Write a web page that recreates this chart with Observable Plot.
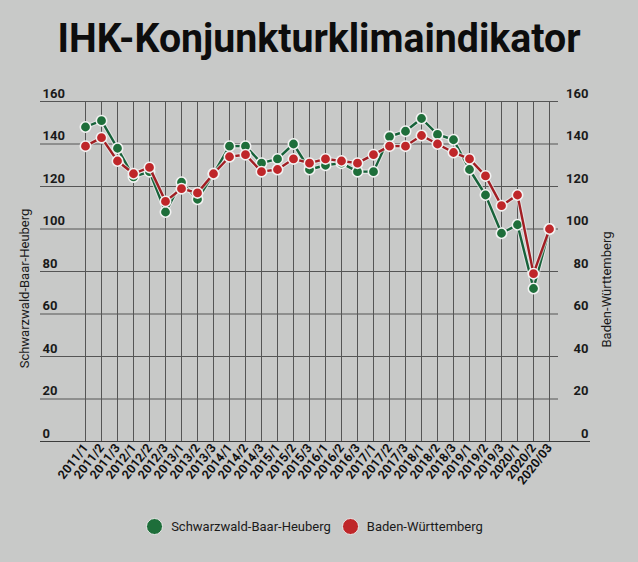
<!DOCTYPE html>
<html>
<head>
<meta charset="utf-8">
<script src="https://cdn.jsdelivr.net/npm/d3@7"></script>
<script src="https://cdn.jsdelivr.net/npm/@observablehq/plot@0.6"></script>
<style>
  html, body { margin: 0; padding: 0; background: #c8c9c8; }
  body { width: 638px; height: 562px; overflow: hidden; font-family: Roboto, "Noto Sans", sans-serif; }
  #title { position: relative; height: 80px; width: 638px; }
  #title span { position: absolute; left: 0; top: 18px; width: 638px; text-align: center; font-size: 41px; line-height: 1; font-weight: 700; color: #0d0d0d; white-space: nowrap; transform-origin: 50% 50%; display: block; }
  #legend { height: 52px; display: flex; align-items: center; justify-content: center; padding-left: 2px; font-size: 13px; color: #1a1a1a; }
  .sw { width: 15px; height: 15px; border-radius: 50%; border: 1.5px solid #e8e8e8; display: inline-block; margin-right: 8px; }
  .item { display: flex; align-items: center; margin-right: 11px; }
</style>
</head>
<body>
<div id="title"><span id="tt">IHK-Konjunkturklimaindikator</span></div>
<div id="chart"></div>
<div id="legend">
  <div class="item"><span class="sw" style="background:#1e6e3a"></span>Schwarzwald-Baar-Heuberg</div>
  <div class="item"><span class="sw" style="background:#bf2629"></span>Baden-Württemberg</div>
</div>
<script>
const categories = ["2011/1","2011/2","2011/3","2012/1","2012/2","2012/3","2013/1","2013/2","2013/3","2014/1","2014/2","2014/3","2015/1","2015/2","2015/3","2016/1","2016/2","2016/3","2017/1","2017/2","2017/3","2018/1","2018/2","2018/3","2019/1","2019/2","2019/3","2020/1","2020/2","2020/03"];
const schwarzwald = [148,151,138,124.5,127,108,122,114,126,139,139,131,133,140,128,130,131,127,127,143.5,146,152,144.5,142,128,116,98,102,72,100];
const badenWuerttemberg = [139,143,132,126,129,113,119,117,126,134,135,127,128,133,131,133,132,131,135,139,139,144,140,136,133,125,111,116,79,100];
const yTicks = [0,20,40,60,80,100,120,140,160];
const seriesNames = ["Schwarzwald-Baar-Heuberg","Baden-Württemberg"];

const green = "#1e6e3a", greenLine = "#17623a";
const red = "#bf2629", redLine = "#a11e23";
const grid = "#555555";

function seriesMarks(values, lineColor, dotColor) {
  return [
    Plot.line(categories, {x: d => d, y: (d, i) => values[i], stroke: "#ececec", strokeWidth: 4.5, strokeOpacity: 0.7}),
    Plot.line(categories, {x: d => d, y: (d, i) => values[i], stroke: lineColor, strokeWidth: 2.4}),
    Plot.dot(categories, {x: d => d, y: (d, i) => values[i], r: 5.2, fill: dotColor, stroke: "#f2f2f2", strokeWidth: 1.6})
  ];
}

const chart = Plot.plot({
  width: 638,
  height: 420,
  marginTop: 21,
  marginBottom: 59,
  marginLeft: 40,
  marginRight: 80,
  style: {background: "transparent", fontFamily: "Roboto, sans-serif", color: "#1a1a1a", overflow: "visible"},
  x: {type: "point", domain: categories, insetLeft: 39, insetRight: 3, padding: 0, label: null},
  y: {domain: [0, 160], axis: null},
  marks: [
    Plot.ruleY(yTicks.filter(d => d > 0), {stroke: grid, strokeWidth: 1}),
    Plot.ruleX(categories, {y1: 0, y2: 160, stroke: grid, strokeWidth: 1}),
    Plot.ruleY([0], {stroke: "#3c3c3c", strokeWidth: 1.2, insetRight: -32}),
    Plot.text(yTicks, {y: d => d, text: d => String(d), frameAnchor: "left", textAnchor: "start", dx: 2, dy: -8, fontSize: 13, fontWeight: 700, fill: "#1a1a1a"}),
    Plot.text(yTicks, {y: d => d, text: d => String(d), frameAnchor: "right", textAnchor: "end", dx: 30, dy: -8, fontSize: 13, fontWeight: 700, fill: "#1a1a1a"}),
    Plot.text([seriesNames[0]], {text: d => d, frameAnchor: "left", textAnchor: "middle", dx: -16, dy: 17, rotate: -90, fontSize: 13, fill: "#1a1a1a"}),
    Plot.text([seriesNames[1]], {text: d => d, frameAnchor: "right", textAnchor: "middle", dx: 48, dy: 18, rotate: -90, fontSize: 13, fill: "#1a1a1a"}),
    Plot.axisX({tickRotate: -52, tickSize: 0, tickPadding: 4, fontSize: 12.5, fontWeight: 700, fill: "#111", label: null}),
    ...seriesMarks(schwarzwald, greenLine, green),
    ...seriesMarks(badenWuerttemberg, redLine, red)
  ]
});
document.getElementById("chart").appendChild(chart);

const tt = document.getElementById("tt");
const r = document.createRange();
r.selectNodeContents(tt);
const w = r.getBoundingClientRect().width;
tt.style.transform = `scaleX(${523 / w})`;
</script>
</body>
</html>
